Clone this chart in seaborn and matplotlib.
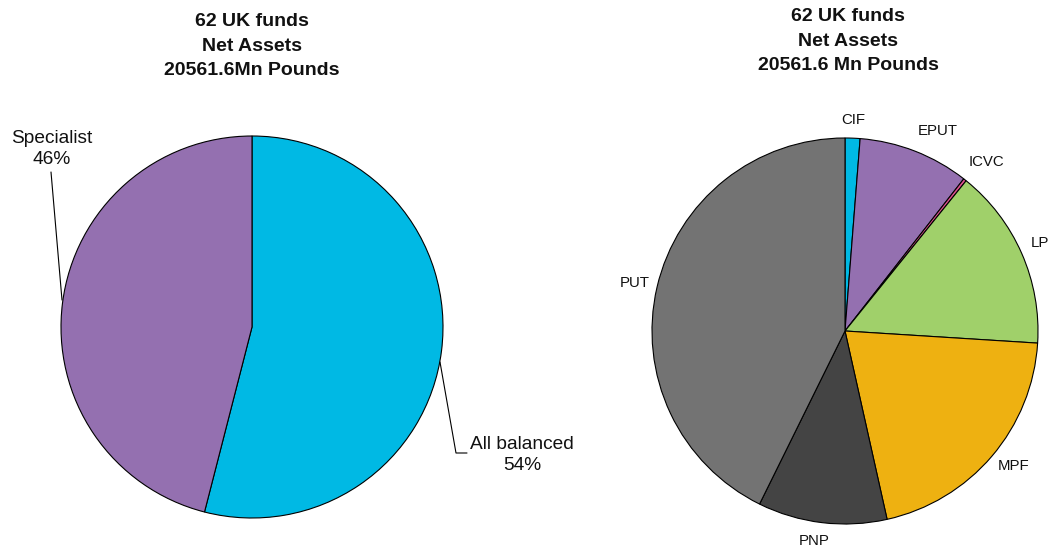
import matplotlib
matplotlib.use("Agg")
import matplotlib.pyplot as plt
import seaborn as sns

sns.set_theme(style="white")
plt.rcParams['font.family'] = ['Liberation Sans', 'DejaVu Sans']

# Data
left_labels = ["All balanced", "Specialist"]
left_values = [54, 46]
left_colors = ["#00B9E4", "#9470B0"]

right_labels = ["CIF", "EPUT", "ICVC", "LP", "MPF", "PNP", "PUT"]
right_values = [1.25, 9.3, 0.25, 15.2, 20.5, 10.8, 42.7]
right_colors = ["#00B9E4", "#9470B0", "#E0508F", "#A0D06A", "#EEB111", "#444444", "#737373"]

left_title = "62 UK funds\nNet Assets\n20561.6Mn Pounds"
right_title = "62 UK funds\nNet Assets\n20561.6 Mn Pounds"

W, H = 1048, 550
fig = plt.figure(figsize=(W / 100, H / 100), dpi=100)
fig.patch.set_facecolor("white")


def make_ax(cx, cy, r):
    ax = fig.add_axes([(cx - r) / W, (H - cy - r) / H, 2 * r / W, 2 * r / H])
    return ax


def fix_ax(ax):
    ax.set_xlim(-1, 1)
    ax.set_ylim(-1, 1)
    ax.set_aspect("equal")
    ax.axis("off")


def p2d(px, py, cx, cy, r):
    return (px - cx) / r, (cy - py) / r


# Left pie
lcx, lcy, lr = 252, 327, 191
axl = make_ax(lcx, lcy, lr)
axl.pie(left_values, colors=left_colors, startangle=90, counterclock=False,
        radius=1, wedgeprops=dict(edgecolor="black", linewidth=0.8))
fix_ax(axl)
for lab, val, (tx, ty), pts in [
    ("Specialist", 46, (52, 149), [(51, 172), (62, 300)]),
    ("All balanced", 54, (522, 455), [(440, 362), (456, 453), (467, 453)]),
]:
    x, y = p2d(tx, ty, lcx, lcy, lr)
    axl.text(x, y, f"{lab}\n{val}%", ha="center", va="center", fontsize=13.8,
             color="#111111", linespacing=1.3, clip_on=False)
    xs, ys = zip(*[p2d(px, py, lcx, lcy, lr) for px, py in pts])
    axl.plot(xs, ys, color="black", linewidth=0.8, clip_on=False)

fig.text(lcx / W, 1 - 13 / H, left_title, ha="center", va="top", fontsize=14,
         fontweight="bold", linespacing=1.58, color="#111111")

# Right pie
rcx, rcy, rr = 845, 331, 193
axr = make_ax(rcx, rcy, rr)
axr.pie(right_values, colors=right_colors, startangle=90, counterclock=False,
        radius=1, wedgeprops=dict(edgecolor="black", linewidth=0.8))
fix_ax(axr)
right_pos = [(853, 120), (938, 131), (986, 162), (1040, 243), (1014, 466), (814, 541), (635, 283)]
for lab, (tx, ty) in zip(right_labels, right_pos):
    x, y = p2d(tx, ty, rcx, rcy, rr)
    axr.text(x, y, lab, ha="center", va="center", fontsize=10.8, color="#111111",
             clip_on=False)

fig.text(848 / W, 1 - 8 / H, right_title, ha="center", va="top", fontsize=14,
         fontweight="bold", linespacing=1.58, color="#111111")

fig.savefig("out.png", dpi=100, facecolor="white")
